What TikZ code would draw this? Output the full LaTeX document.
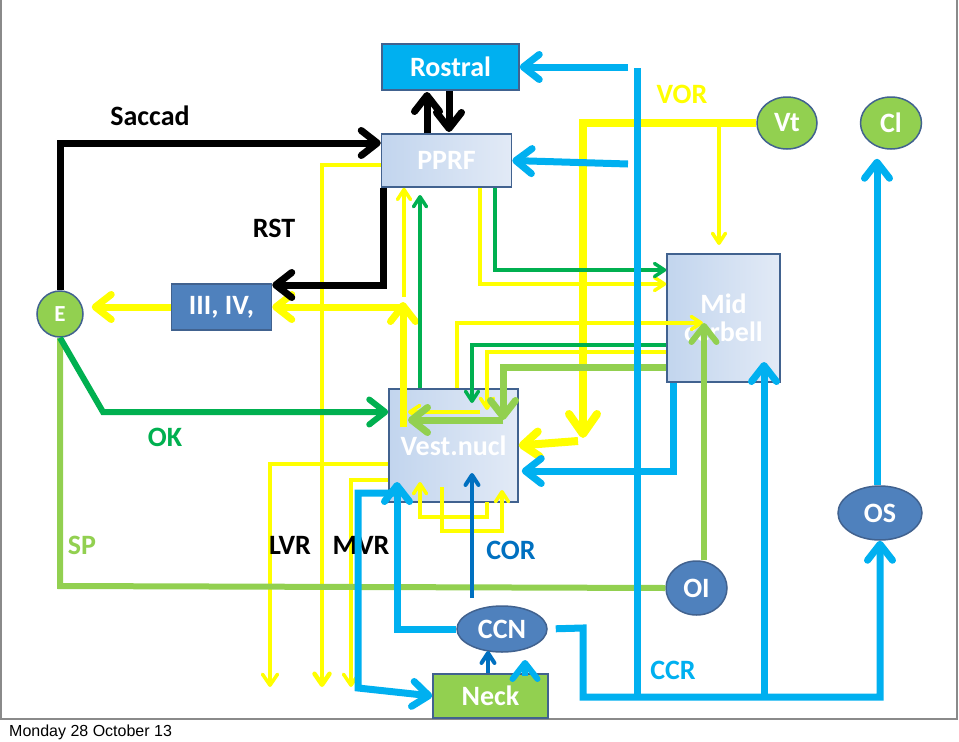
\documentclass[tikz,border=0pt]{standalone}
\usepackage{fontspec}
\setmainfont{Carlito}
\newfontfamily\capfont{Liberation Sans}
\usetikzlibrary{arrows.meta,shapes.geometric,calc}
\definecolor{cyn}{HTML}{00B0F0}
\definecolor{yel}{HTML}{FFFF00}
\definecolor{dgr}{HTML}{00B050}
\definecolor{lgr}{HTML}{92D050}
\definecolor{dbl}{HTML}{0070C0}
\definecolor{nblue}{HTML}{4F81BD}
\definecolor{bord}{HTML}{41628F}
\definecolor{lbA}{HTML}{C2D5EE}
\definecolor{lbB}{HTML}{E2EAF6}
\definecolor{framec}{HTML}{8A8A8A}
\begin{document}
\begin{tikzpicture}[x=1pt,y=-1pt,
  lbl/.style={font=\fontsize{28}{30}\selectfont\bfseries, inner sep=0pt},
  boxtxt/.style={font=\fontsize{28}{28}\selectfont\bfseries, text=white, inner sep=0pt},
  lightbox/.style={boxtxt, draw=bord, line width=1.5pt, left color=lbA, right color=lbB},
  darkbox/.style={boxtxt, draw=bord, line width=1.5pt, fill=nblue},
  cynbox/.style={boxtxt, draw=bord, line width=1.5pt, fill=cyn},
  grbox/.style={boxtxt, draw=bord, line width=1.5pt, fill=lgr},
  oval/.style={boxtxt, ellipse, draw=bord, line width=1.5pt},
  huge/.style={-{Straight Barb[length=20pt,width=28pt,round]}},
  big/.style={-{Straight Barb[length=16pt,width=25pt,round]}},
  med/.style={-{Straight Barb[length=11pt,width=15pt,round]}},
  sml/.style={-{Straight Barb[length=10pt,width=13pt,round]}},
  thin/.style={line width=3.5pt},
  thick/.style={line width=7pt}
]
\useasboundingbox (0,0) rectangle (959,742);
\fill[white] (0,0) rectangle (959,742);
\draw[framec, line width=1.5pt] (1,0) -- (1,719) -- (957,719) -- (957,0);
\node[font=\capfont\fontsize{16}{18}\selectfont, anchor=west, inner sep=0pt] (cap) at (9,732) {Monday 28 October 13};

% nodes
\node[cynbox, minimum width=137pt, minimum height=46pt] (rostral) at (450.5,67) {Rostral};
\node[lightbox, minimum width=130pt, minimum height=53pt] (pprf) at (446.5,160.5) {PPRF};
\node[lightbox, minimum width=129pt, minimum height=113pt] (vest) at (453.5,445.5) {Vest.nucl};
\node[lightbox, minimum width=113pt, minimum height=128pt, align=center] (mid) at (723.5,318) {Mid\\cerbell};
\node[darkbox, minimum width=100pt, minimum height=46pt] (iii) at (221.5,307) {III, IV,};
\node[oval, circle, fill=lgr, minimum size=46pt, font=\fontsize{23}{23}\selectfont\bfseries] (e) at (60,314) {E};
\node[oval, fill=lgr, minimum width=60pt, minimum height=52pt] (vt) at (787,123) {Vt};
\node[oval, fill=lgr, minimum width=61pt, minimum height=52pt] (cl) at (891,123) {Cl};
\node[oval, fill=nblue, minimum width=84pt, minimum height=54pt] (os) at (880,513) {OS};
\node[oval, fill=nblue, minimum width=61pt, minimum height=54pt] (oi) at (696.5,588) {OI};
\node[oval, fill=nblue, minimum width=90pt, minimum height=46pt] (ccn) at (502,629) {CCN};
\node[grbox, minimum width=115pt, minimum height=44pt] (neck) at (490.5,696) {Neck};

% yellow
\draw[yel, line width=4.5pt, med] (pprf.west |- 0,165) -- (322,165) -- (322,687);
\draw[yel, thin, med] (vest.west |- 0,464) -- (270,464) -- (270,687);
\draw[yel, thin, med] (vest.west |- 0,480) -- (351,480) -- (351,687);
\draw[yel, line width=8pt, huge] (vt.west) -| (583,438);
\draw[yel, line width=8pt, big] (578,441) -- (vest.east);
\draw[yel, thin, sml] (719,123) -- (719,245);
\draw[yel, thin, sml] (pprf.south -| 480,0) -- (480,284) -- (mid.west |- 0,284);
\draw[yel, thin, sml] (vest.north -| 457,0) -- (457,323) -- (703,323);
\draw[yel, thin, sml] (mid.west |- 0,352) -- (487,352) -- (487,410);
\draw[yel, thin, sml] (480,412) -- (408,412);
\draw[yel, thin, sml] (404,297) -- (pprf.south -| 404,0);
\draw[yel, thick, big] (403,427) -- (403,302);
\draw[yel, thick, big] (403,307) -- (iii.east);
\draw[yel, thick, big, shorten >=8pt] (iii.west) -- (e.east |- iii.west);
\draw[yel, thin, sml] (487,502) -- (487,517) -- (420,517) -- (420,482);
\draw[yel, thin, sml] (442,487) -- (442,531) -- (502,531) -- (502,490);

% light green
\draw[lgr, line width=6pt] (e.south) -- (60,586) -- (oi.west);
\draw[lgr, line width=6pt, big] (oi.north -| 704,0) -- (704,323);
\draw[lgr, thick, big] (mid.west |- 0,367) -- (503,367) -- (503,420);
\draw[lgr, thick, big] (503,420) -- (408,420);

% dark green
\draw[dgr, line width=6pt, big] (e.south) -- (103,412) -- (vest.west |- 0,412);
\draw[dgr, thin, sml] (vest.north -| 420,0) -- (420,195);
\draw[dgr, thin, sml] (pprf.south -| 495,0) -- (495,270) -- (mid.west |- 0,270);
\draw[dgr, thin, sml] (mid.west |- 0,345) -- (472,345) -- (472,403);

% black
\draw[black, thick, big] (e.north) -- (60,143) -- (pprf.west |- 0,143);
\draw[black, thick, big] (pprf.north -| 427,0) -- (427,92);
\draw[black, thick, big] (rostral.south -| 449,0) -- (449,132);
\draw[black, thick, big] (pprf.south -| 383,0) -- (383,285) -- (iii.east |- 0,285);

% labels
\node[lbl] (lsaccad) at (150,116) {Saccad};
\node[lbl] (lrst) at (274,228) {RST};
\node[lbl, text=dgr] (lok) at (165,437) {OK};
\node[lbl, text=lgr] (lsp) at (82,545) {SP};
\node[lbl] (llvr) at (290,545) {LVR};
\node[lbl] (lmvr) at (361,545) {MVR};
\node[lbl, text=dbl] (lcor) at (511,550) {COR};
\node[lbl, text=yel] (lvor) at (682,94) {VOR};
\node[lbl, text=cyn] (lccr) at (673,670) {CCR};

% cyan
\draw[cyn, thick] (637,68) -- (637,697);
\draw[cyn, thick, big] (628,67) -- (rostral.east);
\draw[cyn, thick, big] (628,164) -- (pprf.east);
\draw[cyn, thick, big, shorten <=8pt] (ccn.east) -- (583,628) -- (583,697) -- (880,697) -- (os.south);
\draw[cyn, thick, big] (764,697) -- (764,362);
\draw[cyn, thick, big, shorten >=3pt] (mid.south -| 673,0) -- (673,471) -- (vest.east |- 0,471);
\draw[cyn, thick, big, shorten >=9pt] (os.north -| 877,0) -- (cl.south -| 877,0);
\draw[cyn, thick, big] (ccn.west) -- (397,629) -- (397,482);
\draw[cyn, thick, big] (397,493) -- (358,493) -- (358,688) -- (neck.west);
\draw[cyn, line width=6pt, big] (525,676) -- (525,660);

% dark blue
\draw[dbl, line width=4pt, sml] (472,598) -- (472,473);
\draw[dbl, line width=4pt, sml] (neck.north -| 488,0) -- (488,651);
\end{tikzpicture}
\end{document}
